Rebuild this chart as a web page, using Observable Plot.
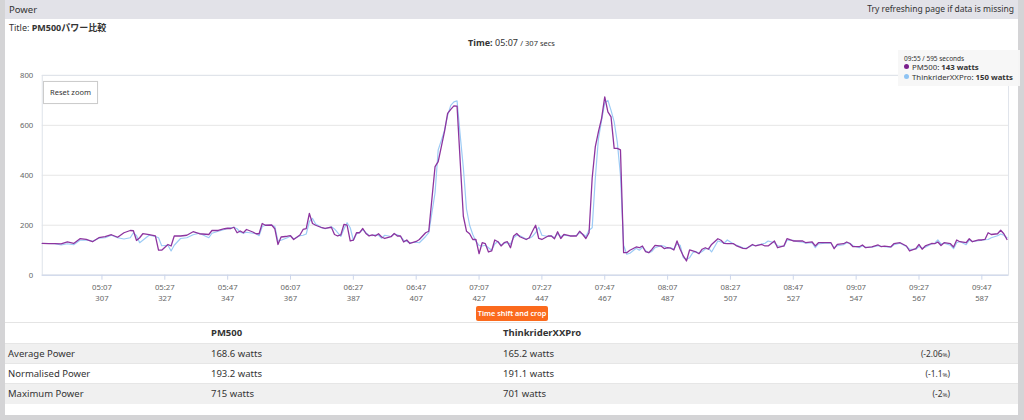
<!DOCTYPE html>
<html>
<head>
<meta charset="utf-8">
<script src="https://cdn.jsdelivr.net/npm/d3@7"></script>
<script src="https://cdn.jsdelivr.net/npm/@observablehq/plot@0.6"></script>
<style>
  html, body { margin: 0; padding: 0; }
  body { width: 1024px; height: 420px; overflow: hidden; background: #d4d4d6; position: relative;
         font-family: "Noto Sans", "Noto Sans CJK JP", sans-serif; color: #333; }
  #panel { position: absolute; left: 5px; top: 0; width: 1013px; height: 415px; background: #fff; }
  #hdr { position: absolute; left: 0; top: 0; width: 1013px; height: 19px; background: #e2e2e8; }
  #hdr .l { position: absolute; left: 4px; top: 3px; font-size: 9.5px; color: #333; }
  #hdr .r { position: absolute; right: 4px; top: 3px; font-size: 8.5px; color: #333; }
  #title { position: absolute; left: 4px; top: 21px; font-size: 9px; color: #333; }
  #title b { font-weight: 700; }
  #time { position: absolute; left: 0; width: 1013px; top: 36px; text-align: center; font-size: 9px; color: #333; }
  #time small { font-size: 7.5px; }
  #chart { position: absolute; left: -5px; top: 55px; }
  #reset { position: absolute; left: 38px; top: 81px; width: 53px; height: 21px; border: 1px solid #ccc;
           background: #fff; font-size: 7.5px; line-height: 21px; text-align: center; color: #333; box-shadow: 0 0 1px #eee; }
  #tip { position: absolute; left: 893px; top: 50px; width: 122px; height: 36px; background: rgba(247,247,247,0.95); }
  #tip .h { position: absolute; left: 6px; top: 4px; font-size: 6.5px; color: #333; }
  #tip .s { position: absolute; left: 6px; font-size: 7.8px; color: #333; white-space: nowrap; }
  #tip .s b { font-weight: 700; }
  #tip .dot { display: inline-block; width: 5px; height: 5px; border-radius: 50%; margin-right: 3px; vertical-align: 1px; }
  #shift { position: absolute; left: 471px; top: 306px; width: 72px; height: 15px; background: #fb6a1d; border-radius: 2px;
           color: #fff; font-size: 7.3px; line-height: 15px; text-align: center; font-weight: 600; }
  #tbl { position: absolute; left: 0; top: 322px; width: 1013px; border-collapse: collapse; font-size: 9.5px; color: #333; }
  #tbl td { padding: 0; height: 19px; line-height: 12px; vertical-align: middle; white-space: nowrap; box-sizing: border-box; }
  #tbl tr.hd td { border-top: 1px solid #e4e4e4; font-weight: 700; height: 21px; }
  #tbl tr.g td { background: #f0f0f0; border-top: 1px solid #e6e6e6; height: 20px; }
  #tbl tr.w td { background: #fff; border-top: 1px solid #e6e6e6; height: 20px; }
  #tbl td.c0 { width: 206px; padding-left: 3px; }
  #tbl td.c1 { width: 292px; }
  #tbl td.c2 { width: 395px; }
  #tbl td.c3 { text-align: right; padding-right: 68px; font-size: 8.3px; }
  #tbl td.c3 small { font-size: 6px; line-height: 0; }
</style>
</head>
<body>
<div id="panel">
  <div id="hdr"><span class="l">Power</span><span class="r">Try refreshing page if data is missing</span></div>
  <div id="title">Title: <b>PM500パワー比較</b></div>
  <div id="time"><b>Time:</b> 05:07 <small>/ 307 secs</small></div>
  <div id="chart"></div>
  <div id="reset">Reset zoom</div>
  <div id="tip">
    <div class="h">09:55 / 595 seconds</div>
    <div class="s" style="top:12px"><span class="dot" style="background:#7a1f8c"></span>PM500: <b>143 watts</b></div>
    <div class="s" style="top:22px"><span class="dot" style="background:#8ec3f3"></span>ThinkriderXXPro: <b>150 watts</b></div>
  </div>
  <div id="shift">Time shift and crop</div>
  <table id="tbl"></table>
</div>
<script>
// ---- data (seconds, watts) ----
const seconds = [288,290,292,294,296,298,300,302,304,306,308,310,312,314,316,317,318,319,320,322,324,325,326,328,329,330,332,334,336,338,
341,342,344,346,347,348,349,350,351,352,353,355,356,357,358,359,361,362,363,364,366,367,368,370,371,372,373,374,375,377,378,380,381,382,383,384,385,386,387,388,389,
390,391,392,393,394,395,396,397,399,400,401,402,403,404,405,407,408,410,411,413,414,415,416,417,418,419,420,421,422,423,424,425,426,427,428,
429,430,431,432,433,434,435,436,437,438,439,440,442,443,444,445,446,447,449,450,451,452,453,454,456,457,458,459,460,461,462,463,464,465,466,467,468,469,470,471,472,473,474,475,477,
478,479,480,481,482,483,485,486,487,488,489,490,491,492,493,494,495,496,497,498,499,500,501,503,504,505,506,508,509,511,512,514,515,517,518,519,521,522,524,525,527,528,530,531,533,534,535,537,
539,540,541,543,544,545,546,548,549,550,552,554,555,556,558,559,561,563,564,566,567,568,569,571,572,573,574,575,577,578,579,580,582,583,584,586,587,588,589,590,592,593,594,595];

const pm500 = [127,126,126,125,133,127,146,143,134,150,154,162,152,170,179,178,139,150,166,162,157,100,100,123,117,157,157,160,174,166,
163,179,179,186,188,187,192,170,177,170,183,173,166,166,207,200,201,186,123,153,156,158,143,161,183,186,247,207,200,190,187,192,163,157,161,203,200,137,140,170,170,
187,167,157,161,157,166,153,147,154,167,157,157,133,141,127,135,143,170,176,435,455,515,575,648,664,678,677,455,236,176,166,143,143,86,130,
126,93,97,141,134,117,130,134,110,157,167,154,143,150,176,200,147,143,157,157,146,174,147,163,157,157,157,176,163,147,170,389,515,575,628,714,654,634,508,508,502,90,90,100,113,
110,117,94,90,103,119,116,106,110,108,101,137,104,77,57,101,97,93,86,104,110,104,123,146,140,127,126,126,117,107,106,123,117,123,117,117,137,110,117,146,137,137,137,130,133,117,130,130,
130,106,123,126,133,127,114,114,121,110,113,121,114,116,113,126,130,117,97,106,123,104,117,127,126,133,119,130,126,113,141,134,130,146,134,141,141,143,170,163,166,180,166,143];

const thinkrider = [127,127,126,121,126,122,140,141,136,148,150,160,150,145,150,170,158,130,140,160,155,150,118,120,97,120,147,150,162,168,
150,168,176,183,187,190,192,186,172,168,172,168,167,158,195,200,200,195,136,140,150,157,145,158,160,165,215,227,205,190,186,194,185,170,155,185,210,190,140,165,172,
183,170,160,158,162,160,148,160,155,165,162,155,140,135,130,132,130,155,170,330,502,540,580,640,680,694,698,560,430,265,200,163,135,119,117,
120,110,100,125,135,120,128,130,125,150,160,158,145,148,155,170,192,160,155,158,150,165,155,160,157,158,160,170,165,155,180,190,389,548,620,690,700,660,614,532,400,120,84,88,108,
100,112,98,90,95,110,119,116,108,110,105,125,120,70,64,70,90,95,88,95,105,108,93,137,133,128,141,125,120,110,108,120,119,125,128,137,130,118,115,140,140,135,132,128,130,110,125,128,
128,110,118,122,130,128,118,110,118,112,112,118,116,114,112,122,128,115,104,104,115,108,112,125,128,141,125,128,120,106,130,135,122,140,135,138,140,142,143,150,158,165,160,150];

const xTickSeconds = [307,327,347,367,387,407,427,447,467,487,507,527,547,567,587];
const xTickClock = ["05:07","05:27","05:47","06:07","06:27","06:47","07:07","07:27","07:47","08:07","08:27","08:47","09:07","09:27","09:47"];
const yTicks = [0,200,400,600,800];

// ---- summary table ----
const statNames = ["Average Power","Normalised Power","Maximum Power"];
const pmStats = ["168.6 watts","193.2 watts","715 watts"];
const trStats = ["165.2 watts","191.1 watts","701 watts"];
const statDiffs = ["-2.06","-1.1","-2"];

const data = seconds.map((t, i) => ({t, pm: pm500[i], tr: thinkrider[i]}));
const clockOf = new Map(xTickSeconds.map((s, i) => [s, xTickClock[i]]));

const chart = Plot.plot({
  width: 1024,
  height: 250,
  marginLeft: 42,
  marginRight: 10,
  marginTop: 20,
  marginBottom: 29,
  style: {fontFamily: "'Noto Sans', sans-serif", fontSize: "7.8px", color: "#666", background: "transparent", overflow: "visible"},
  x: {domain: [288, 595.5]},
  y: {domain: [0, 800]},
  marks: [
    Plot.gridY(yTicks, {stroke: "#e6e6e6", strokeOpacity: 1}),
    Plot.frame({stroke: "#dfe3ea"}),
    Plot.axisY(yTicks, {tickSize: 0, tickPadding: 9, label: null, fill: "#666"}),
    Plot.axisX(xTickSeconds, {tickSize: 5, tickPadding: 2, stroke: "#ccd6eb", fill: "#666", label: null, lineHeight: 1.4,
      tickFormat: d => clockOf.get(d) + "\n" + d}),
    Plot.ruleY([0], {stroke: "#ccd6eb"}),
    Plot.line(data, {x: "t", y: "tr", stroke: "#9ccbf5", strokeWidth: 1.2}),
    Plot.line(data, {x: "t", y: "pm", stroke: "#8d349f", strokeWidth: 1.3})
  ]
});
document.getElementById("chart").appendChild(chart);

const tbl = document.getElementById("tbl");
let html = `<tr class="hd"><td class="c0"></td><td class="c1">PM500</td><td class="c2">ThinkriderXXPro</td><td class="c3"></td></tr>`;
statNames.forEach((n, i) => {
  html += `<tr class="${i % 2 === 0 ? "g" : "w"}"><td class="c0">${n}</td><td class="c1">${pmStats[i]}</td><td class="c2">${trStats[i]}</td><td class="c3">(${statDiffs[i]}<small>%</small>)</td></tr>`;
});
tbl.innerHTML = html;
</script>
</body>
</html>
